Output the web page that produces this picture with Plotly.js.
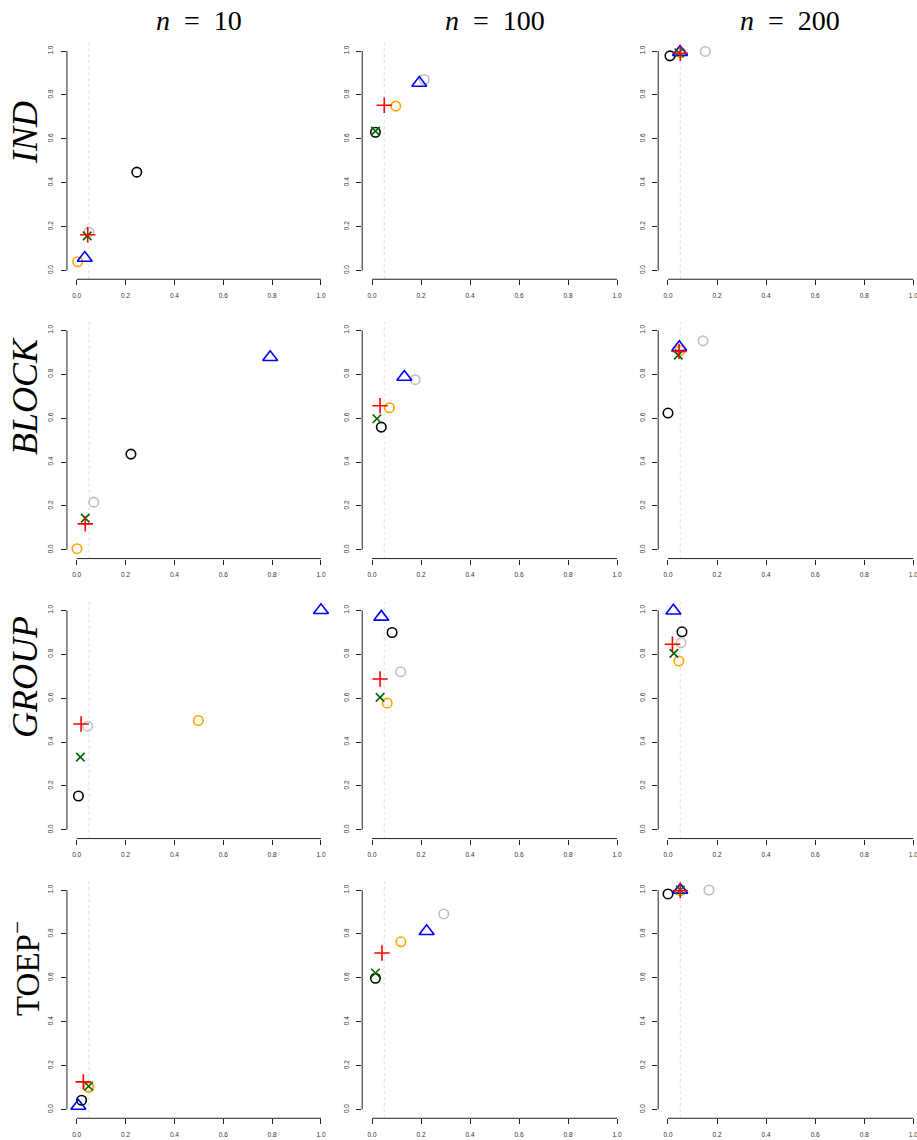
<!DOCTYPE html>
<html><head><meta charset="utf-8">
<script src="https://cdn.plot.ly/plotly-3.0.1.min.js"></script>
<style>html,body{margin:0;padding:0;background:#fff}</style>
</head><body><div id="chart" style="width:917px;height:1140px"></div>
<script>
// Panels ordered row by row: IND, BLOCK, GROUP, TOEP- ; columns n=10, n=100, n=200
const rowLabels = ['<i>IND</i>', '<i>BLOCK</i>', '<i>GROUP</i>', 'TOEP<sup>\u2212</sup>'];
const colLabels = ['<i>n</i>\u00a0\u00a0=\u00a0\u00a010', '<i>n</i>\u00a0\u00a0=\u00a0\u00a0100', '<i>n</i>\u00a0\u00a0=\u00a0\u00a0200'];
const tickVals = [0, 0.2, 0.4, 0.6, 0.8, 1.0];
const refLine = 0.05;

const blackX  = [0.246, 0.014, 0.008, 0.222, 0.038, 0.000, 0.007, 0.082, 0.057, 0.020, 0.014, 0.000];
const blackY  = [0.448, 0.630, 0.978, 0.436, 0.559, 0.623, 0.154, 0.899, 0.902, 0.042, 0.598, 0.982];
const greyX   = [0.050, 0.213, 0.152, 0.070, 0.176, 0.143, 0.045, 0.117, 0.053, 0.050, 0.293, 0.167];
const greyY   = [0.175, 0.870, 0.998, 0.217, 0.775, 0.952, 0.472, 0.720, 0.852, 0.105, 0.891, 1.000];
const orangeX = [0.004, 0.097, 0.052, 0.001, 0.071, 0.049, 0.498, 0.062, 0.044, 0.049, 0.118, 0.050];
const orangeY = [0.040, 0.749, 0.992, 0.005, 0.647, 0.908, 0.498, 0.577, 0.769, 0.100, 0.764, 0.997];
const blueX   = [0.033, 0.193, 0.049, 0.792, 0.132, 0.046, 1.000, 0.038, 0.022, 0.007, 0.223, 0.050];
const blueY   = [0.057, 0.854, 0.995, 0.877, 0.787, 0.923, 1.000, 0.970, 0.998, 0.016, 0.812, 1.000];
const greenX  = [0.043, 0.014, 0.045, 0.035, 0.020, 0.042, 0.015, 0.033, 0.024, 0.049, 0.014, 0.050];
const greenY  = [0.158, 0.635, 0.992, 0.144, 0.597, 0.887, 0.331, 0.603, 0.804, 0.106, 0.622, 1.000];
const redX    = [0.045, 0.050, 0.050, 0.035, 0.033, 0.045, 0.018, 0.033, 0.018, 0.027, 0.041, 0.050];
const redY    = [0.163, 0.753, 0.990, 0.118, 0.656, 0.904, 0.482, 0.687, 0.845, 0.126, 0.713, 0.998];

const W = 917, H = 1140;
const series = [
  {x: blackX,  y: blackY,  color: '#000000', symbol: 'circle-open',       size: 9.5},
  {x: greyX,   y: greyY,   color: '#bebebe', symbol: 'circle-open',       size: 9.5},
  {x: orangeX, y: orangeY, color: '#ffa500', symbol: 'circle-open',       size: 9.5},
  {x: blueX,   y: blueY,   color: '#0000ff', symbol: 'triangle-up-open',  size: 13},
  {x: greenX,  y: greenY,  color: '#006400', symbol: 'x-thin-open',       size: 8.5},
  {x: redX,    y: redY,    color: '#ff0000', symbol: 'cross-thin-open',   size: 11}
];

// geometry (pixels): data 0 position and 1-unit length for each column/row
const colX0 = [76.7, 372, 668], colU = [244.3, 245, 245.3];
const rowY1 = [51, 330.3, 610.3, 890], rowU = 219.5;

const traces = [], shapes = [], annotations = [];
const layout = {
  width: W, height: H, margin: {l: 0, r: 0, t: 0, b: 0, pad: 0},
  paper_bgcolor: '#fff', plot_bgcolor: 'rgba(0,0,0,0)', showlegend: false,
  font: {family: 'Liberation Sans, Arial, sans-serif', color: '#333'}
};

for (let r = 0; r < 4; r++) {
  for (let c = 0; c < 3; c++) {
    const k = r * 3 + c, sfx = k === 0 ? '' : String(k + 1);
    const left = colX0[c] - 0.04 * colU[c];
    let right = colX0[c] + 1.04 * colU[c];
    let xmax = 1.04;
    if (right > W) { right = W; xmax = (W - colX0[c]) / colU[c]; }
    const top = rowY1[r] - 0.04 * rowU, bottom = rowY1[r] + 1.04 * rowU;
    const axCommon = {
      showgrid: false, zeroline: false, showline: false,
      ticks: 'outside', ticklen: 5, tickwidth: 1, tickcolor: '#222',
      tickvals: tickVals, tickformat: '.1f', ticklabelstandoff: 5, ticklabeloverflow: 'allow',
      tickfont: {size: 6.5, color: '#333', family: 'Liberation Sans, Arial, sans-serif'},
      fixedrange: true
    };
    layout['xaxis' + sfx] = Object.assign({}, axCommon, {
      domain: [left / W, right / W], range: [-0.04, xmax], anchor: 'y' + sfx
    });
    layout['yaxis' + sfx] = Object.assign({}, axCommon, {
      domain: [1 - bottom / H, 1 - top / H], range: [-0.04, 1.04], anchor: 'x' + sfx, tickangle: -90
    });
    // reference line
    shapes.push({type: 'line', xref: 'x' + sfx, yref: 'y' + sfx + ' domain', x0: refLine, x1: refLine, y0: 0, y1: 1,
      line: {color: '#d4d4d4', width: 0.8, dash: 'dot'}, layer: 'below'});
    // R-style axis lines from 0 to 1
    shapes.push({type: 'line', xref: 'x' + sfx, yref: 'y' + sfx + ' domain', x0: 0, x1: 1, y0: 0, y1: 0,
      line: {color: '#222', width: 1}, layer: 'below'});
    shapes.push({type: 'line', xref: 'x' + sfx + ' domain', yref: 'y' + sfx, x0: 0, x1: 0, y0: 0, y1: 1,
      line: {color: '#222', width: 1}, layer: 'below'});
    series.forEach(s => {
      traces.push({
        type: 'scatter', mode: 'markers', x: [s.x[k]], y: [s.y[k]],
        xaxis: 'x' + sfx, yaxis: 'y' + sfx, hoverinfo: 'skip', cliponaxis: false,
        marker: {symbol: s.symbol, size: s.size, color: s.color, line: {color: s.color, width: 1.6}}
      });
    });
  }
}

const serif = 'Liberation Serif, Times New Roman, serif';
const colCenters = [198.8, 494.5, 790];
colLabels.forEach((t, c) => annotations.push({
  xref: 'paper', yref: 'paper', x: colCenters[c] / W, y: 1 - 20 / H, xanchor: 'center', yanchor: 'middle',
  text: t, showarrow: false, font: {family: serif, size: 28, color: '#000'}
}));
const rowCenters = [133, 396, 677, 969];
rowLabels.forEach((t, r) => annotations.push({
  xref: 'paper', yref: 'paper', x: 25 / W, y: 1 - rowCenters[r] / H, xanchor: 'center', yanchor: 'middle',
  text: t, showarrow: false, textangle: -90, font: {family: serif, size: r === 3 ? 33 : 36, color: '#000'}
}));

layout.shapes = shapes;
layout.annotations = annotations;
Plotly.newPlot('chart', traces, layout, {staticPlot: true, displayModeBar: false});
</script></body></html>
